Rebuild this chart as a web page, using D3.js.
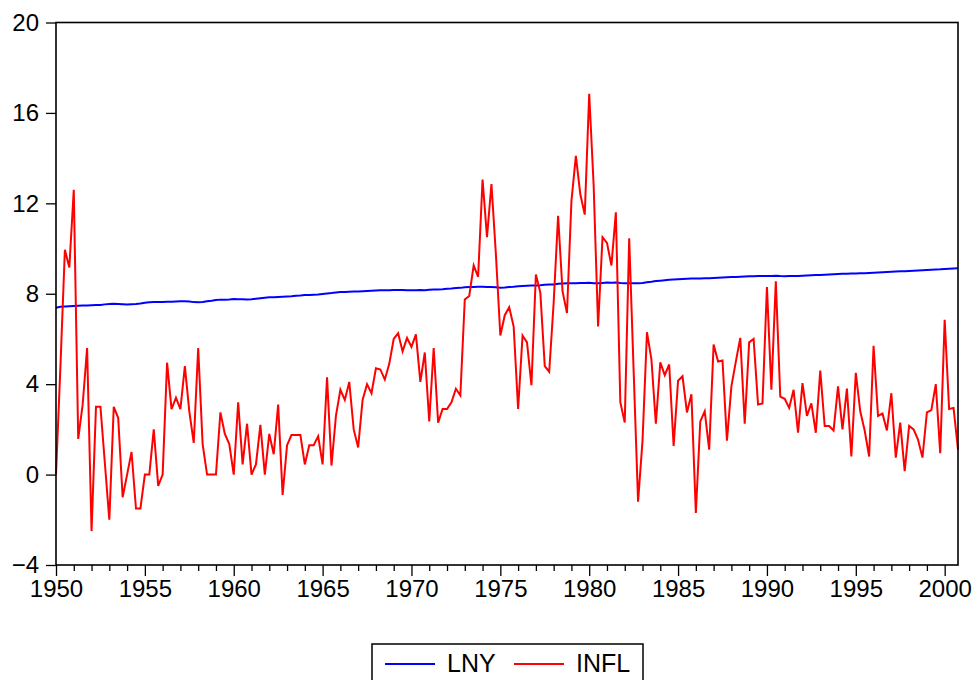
<!DOCTYPE html>
<html>
<head>
<meta charset="utf-8">
<script src="https://cdn.jsdelivr.net/npm/d3@7"></script>
<style>
  body { margin: 0; background: #fff; }
  text { font-family: "Liberation Sans", Arial, sans-serif; fill: #000; }
</style>
</head>
<body>
<div id="chart"></div>
<script>
// quarterly observations, 1950Q1 - 2000Q4
var startYear = 1950;
var quarters = d3.range(0, 204).map(i => startYear + i / 4);

var lny = [
  7.38, 7.42, 7.44, 7.45,  7.46, 7.47, 7.48, 7.48,  7.49, 7.50, 7.50, 7.53,
  7.55, 7.56, 7.55, 7.54,  7.53, 7.54, 7.55, 7.57,  7.60, 7.62, 7.63, 7.64,
  7.64, 7.65, 7.65, 7.66,  7.67, 7.67, 7.66, 7.63,  7.62, 7.64, 7.67, 7.69,
  7.72, 7.74, 7.74, 7.75,  7.77, 7.76, 7.76, 7.75,  7.76, 7.78, 7.80, 7.82,
  7.84, 7.85, 7.86, 7.87,  7.88, 7.89, 7.91, 7.92,  7.94, 7.95, 7.96, 7.97,
  7.99, 8.01, 8.03, 8.06,  8.08, 8.08, 8.09, 8.10,  8.10, 8.11, 8.12, 8.13,
  8.14, 8.15, 8.16, 8.16,  8.17, 8.17, 8.17, 8.16,  8.16, 8.16, 8.17, 8.16,
  8.18, 8.19, 8.19, 8.20,  8.22, 8.23, 8.25, 8.26,  8.29, 8.30, 8.30, 8.31,
  8.31, 8.30, 8.30, 8.29,  8.27, 8.28, 8.30, 8.31,  8.33, 8.34, 8.35, 8.36,
  8.37, 8.38, 8.40, 8.41,  8.41, 8.44, 8.45, 8.46,  8.47, 8.47, 8.48, 8.48,
  8.49, 8.46, 8.46, 8.48,  8.50, 8.49, 8.50, 8.48,  8.47, 8.47, 8.46, 8.46,
  8.48, 8.51, 8.53, 8.56,  8.58, 8.60, 8.62, 8.63,  8.64, 8.65, 8.66, 8.67,
  8.67, 8.68, 8.69, 8.69,  8.70, 8.71, 8.72, 8.73,  8.74, 8.74, 8.75, 8.76,
  8.77, 8.77, 8.78, 8.78,  8.79, 8.79, 8.80, 8.78,  8.77, 8.78, 8.79, 8.79,
  8.80, 8.81, 8.82, 8.83,  8.83, 8.84, 8.85, 8.86,  8.87, 8.88, 8.89, 8.90,
  8.90, 8.91, 8.91, 8.92,  8.93, 8.94, 8.95, 8.96,  8.97, 8.98, 8.99, 9.00,
  9.01, 9.02, 9.03, 9.04,  9.05, 9.06, 9.07, 9.08,  9.10, 9.11, 9.12, 9.13
];

var infl = [
  0, 4.8, 9.95, 9.16,  12.6, 1.58, 3.1, 5.6,  -2.5, 3.0, 3.0, 0.5,
  -2.0, 3.0, 2.5, -1.0,  0, 1.0, -1.5, -1.5,  0, 0, 2.0, -0.5,
  0, 4.95, 2.9, 3.4,  2.9, 4.8, 2.8, 1.4,  5.6, 1.35, 0, 0,
  0, 2.75, 1.8, 1.35,  0, 3.2, 0.45, 2.25,  0, 0.45, 2.2, 0,
  1.8, 0.9, 3.1, -0.9,  1.3, 1.75, 1.75, 1.75,  0.45, 1.3, 1.3, 1.7,
  0.45, 4.3, 0.4, 2.6,  3.75, 3.3, 4.1, 2.0,  1.2, 3.3, 4.0, 3.6,
  4.7, 4.65, 4.2, 4.9,  6.0, 6.25, 5.45, 6.05,  5.65, 6.2, 4.1, 5.4,
  2.35, 5.6, 2.3, 2.9,  2.9, 3.2, 3.8, 3.5,  7.75, 7.9, 9.25, 8.75,
  13.05, 10.5, 12.85, 9.75,  6.15, 7.05, 7.4, 6.55,  2.9, 6.15, 5.85, 3.95,
  8.85, 8.05, 4.8, 4.55,  7.6, 11.45, 8.1, 7.15,  12.1, 14.1, 12.4, 11.5,
  16.85, 12.8, 6.55, 10.5,  10.25, 9.25, 11.6, 3.2,  2.3, 10.45, 4.6, -1.2,
  1.5, 6.3, 5.1, 2.25,  4.97, 4.4, 4.87, 1.27,  4.15, 4.35, 2.75, 3.55,
  -1.7, 2.35, 2.8, 1.1,  5.75, 5.0, 5.05, 1.5,  3.9, 5.0, 6.05, 2.25,
  5.85, 6.0, 3.1, 3.15,  8.3, 3.75, 8.55, 3.45,  3.35, 2.95, 3.75, 1.85,
  4.05, 2.6, 3.15, 1.85,  4.6, 2.15, 2.15, 1.95,  3.9, 2.0, 3.8, 0.8,
  4.5, 2.8, 1.95, 0.8,  5.7, 2.6, 2.7, 1.95,  3.6, 0.75, 2.3, 0.15,
  2.15, 2.0, 1.55, 0.75,  2.75, 2.85, 4.0, 0.95,  6.85, 2.9, 2.95, 1.1
];

var yTicks = [-4, 0, 4, 8, 12, 16, 20];
var yearTicks = d3.range(1950, 2001);
var seriesNames = ["LNY", "INFL"];
var seriesColors = ["#0000ff", "#ff0000"];

var svgWidth = 976;
var svgHeight = 680;
var plot = {left: 56, right: 958, top: 22.5, bottom: 565};

var svg = d3.select("#chart")
  .append("svg")
  .attr("width", svgWidth)
  .attr("height", svgHeight);

// scales
var x = d3.scaleLinear()
  .domain([1950, 2000.75])
  .range([plot.left, plot.right]);
var y = d3.scaleLinear()
  .domain([-4, 20])
  .range([plot.bottom, plot.top]);

// axes
var leftAxis = d3.axisLeft(y)
  .tickValues(yTicks)
  .tickSize(10)
  .tickPadding(7)
  .tickFormat(d3.format("d"));
var yg = svg.append("g")
  .attr("transform", `translate(${plot.left},0)`)
  .call(leftAxis);

var minorAxis = d3.axisBottom(x)
  .tickValues(yearTicks.filter(d => d % 5 != 0))
  .tickSize(6)
  .tickFormat("");
var majorAxis = d3.axisBottom(x)
  .tickValues(yearTicks.filter(d => d % 5 == 0))
  .tickSize(11)
  .tickPadding(4)
  .tickFormat(d3.format("d"));
var xg1 = svg.append("g")
  .attr("transform", `translate(0,${plot.bottom})`)
  .call(minorAxis);
var xg2 = svg.append("g")
  .attr("transform", `translate(0,${plot.bottom})`)
  .call(majorAxis);

[yg, xg1, xg2].forEach(function(g) {
  g.select(".domain").remove();
  g.selectAll("line").attr("stroke", "#000").attr("stroke-width", 1.3);
  g.selectAll("text")
    .attr("font-size", "24px")
    .attr("font-family", "Liberation Sans, Arial, sans-serif")
    .attr("fill", "#000");
});

// lines
var lineOf = function(values) {
  return d3.line()
    .x((d, i) => x(quarters[i]))
    .y(d => y(d))(values);
};
svg.append("path")
  .attr("d", lineOf(lny))
  .attr("fill", "none")
  .attr("stroke", seriesColors[0])
  .attr("stroke-width", 2);
svg.append("path")
  .attr("d", lineOf(infl))
  .attr("fill", "none")
  .attr("stroke", seriesColors[1])
  .attr("stroke-width", 2)
  .attr("stroke-linejoin", "miter");

// frame
svg.append("rect")
  .attr("x", plot.left)
  .attr("y", plot.top)
  .attr("width", plot.right - plot.left)
  .attr("height", plot.bottom - plot.top)
  .attr("fill", "none")
  .attr("stroke", "#000")
  .attr("stroke-width", 1.6);

// legend
var legend = svg.append("g");
legend.append("rect")
  .attr("x", 372)
  .attr("y", 644)
  .attr("width", 271)
  .attr("height", 50)
  .attr("fill", "none")
  .attr("stroke", "#000")
  .attr("stroke-width", 1.5);
var legendX = [385, 514];
seriesNames.forEach(function(name, k) {
  legend.append("line")
    .attr("x1", legendX[k])
    .attr("x2", legendX[k] + 50)
    .attr("y1", 664)
    .attr("y2", 664)
    .attr("stroke", seriesColors[k])
    .attr("stroke-width", 2);
  legend.append("text")
    .attr("x", legendX[k] + 62)
    .attr("y", 672)
    .attr("font-size", "25px")
    .text(name);
});
</script>
</body>
</html>
